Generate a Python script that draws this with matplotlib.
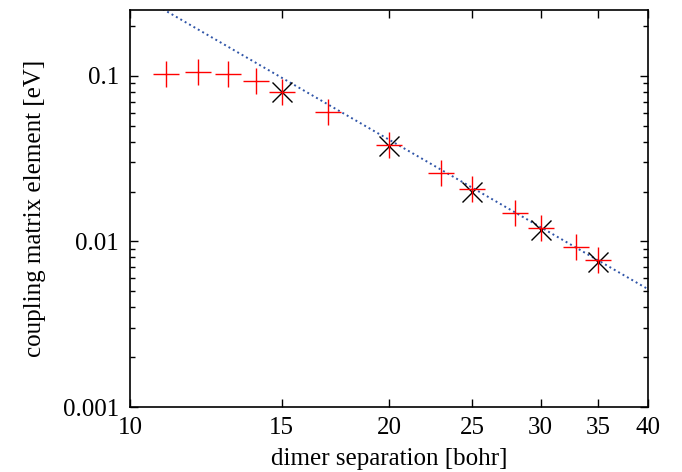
import matplotlib.pyplot as plt
from matplotlib.ticker import FixedLocator, NullFormatter, LogLocator

plt.rcParams['font.family'] = ['Liberation Serif', 'DejaVu Serif']

# red + : full set of separations
sep_red = [11, 12, 13, 14, 15, 17, 20, 23, 25, 28, 30, 33, 35]
coup_red = [0.103, 0.105, 0.103, 0.093, 0.080, 0.0607, 0.0382, 0.0259, 0.0206,
            0.0149, 0.0121, 0.0092, 0.0077]

# black x : subset
sep_blk = [15, 20, 25, 30, 35]
coup_blk = [0.080, 0.0379, 0.0200, 0.0118, 0.0075]

# dotted fit line (straight on log-log), endpoints
fit_x = [10, 40]
fit_y = [0.3295, 0.00515]

xticks = [10, 15, 20, 25, 30, 35, 40]
yticks = [0.001, 0.01, 0.1]
ytick_labels = ['0.001', '0.01', '0.1']

fig = plt.figure(figsize=(6.82, 4.72), dpi=100)
ax = fig.add_axes([130 / 682, 1 - 407 / 472, 518 / 682, 397 / 472])

ax.plot(fit_x, fit_y, color='#3055a8', lw=1.4, ls=(0, (1, 1.6)), zorder=2)
ax.plot(sep_blk, coup_blk, 'x', color='black', ms=14, mew=1.0, zorder=3)
ax.plot(sep_red, coup_red, '+', color='red', ms=18.5, mew=1.0, zorder=4)

ax.set_xscale('log')
ax.set_yscale('log')
ax.set_xlim(10, 40)
ax.set_ylim(0.001, 0.25)

ax.xaxis.set_major_locator(FixedLocator(xticks))
ax.xaxis.set_minor_locator(FixedLocator([]))
ax.set_xticklabels([str(t) for t in xticks])
ax.xaxis.set_minor_formatter(NullFormatter())
ax.yaxis.set_major_locator(FixedLocator(yticks))
ax.set_yticklabels(ytick_labels)
ax.yaxis.set_minor_locator(LogLocator(base=10, subs=range(2, 10)))
ax.yaxis.set_minor_formatter(NullFormatter())

ax.tick_params(which='both', direction='in', top=True, right=True, labelsize=18)
ax.tick_params(which='major', length=6, width=1)
ax.tick_params(which='minor', length=3.5, width=1)
ax.tick_params(axis='x', pad=7)
ax.tick_params(axis='y', pad=8)
for s in ax.spines.values():
    s.set_linewidth(1.2)

ax.set_xlabel('dimer separation [bohr]', fontsize=18, labelpad=7)
ax.set_ylabel('coupling matrix element [eV]', fontsize=18, labelpad=12)

fig.savefig('out.png', dpi=100)
